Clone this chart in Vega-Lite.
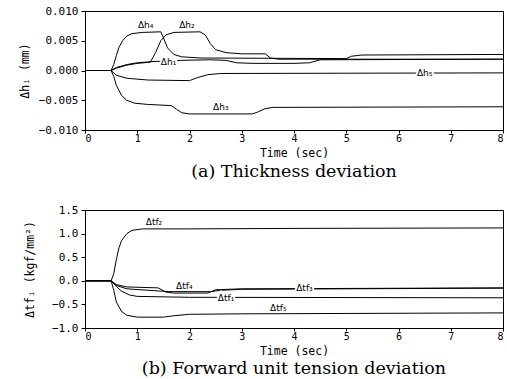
{
  "$schema": "https://vega.github.io/schema/vega-lite/v6.json",
  "padding": {"left": 18, "top": 4, "right": 4, "bottom": 2},
  "background": "white",
  "spacing": 22,
  "config": {
    "view": {"stroke": "black", "strokeWidth": 1},
    "axis": {
      "domainColor": "black", "tickColor": "black", "labelColor": "black", "titleColor": "black",
      "labelFont": "DejaVu Sans Mono", "labelFontSize": 11, "titleFont": "DejaVu Sans Mono", "titleFontSize": 11.5,
      "titleFontWeight": "normal", "grid": false, "tickSize": 4, "labelPadding": 1, "labelOverlap": false
    },
    "title": {"font": "DejaVu Serif", "fontSize": 17.5, "fontWeight": "normal", "color": "black", "orient": "bottom", "offset": 4}
  },
  "datasets": {
    "thick": [
      {"s": "h1", "t": 0, "v": 0}, {"s": "h1", "t": 0.5, "v": 0}, {"s": "h1", "t": 0.6, "v": 0.0005}, {"s": "h1", "t": 0.8, "v": 0.001}, {"s": "h1", "t": 1.0, "v": 0.0013}, {"s": "h1", "t": 1.3, "v": 0.0015}, {"s": "h1", "t": 1.8, "v": 0.0017}, {"s": "h1", "t": 2.4, "v": 0.0018}, {"s": "h1", "t": 2.7, "v": 0.0017}, {"s": "h1", "t": 2.9, "v": 0.0013}, {"s": "h1", "t": 3.2, "v": 0.0012}, {"s": "h1", "t": 4.0, "v": 0.0012}, {"s": "h1", "t": 4.3, "v": 0.0013}, {"s": "h1", "t": 4.5, "v": 0.0018}, {"s": "h1", "t": 8, "v": 0.0019},
      {"s": "h2", "t": 0, "v": 0}, {"s": "h2", "t": 0.5, "v": 0}, {"s": "h2", "t": 0.6, "v": 0.0004}, {"s": "h2", "t": 0.8, "v": 0.0009}, {"s": "h2", "t": 1.0, "v": 0.0012}, {"s": "h2", "t": 1.25, "v": 0.0014}, {"s": "h2", "t": 1.35, "v": 0.003}, {"s": "h2", "t": 1.45, "v": 0.005}, {"s": "h2", "t": 1.55, "v": 0.006}, {"s": "h2", "t": 1.7, "v": 0.0064}, {"s": "h2", "t": 2.2, "v": 0.0065}, {"s": "h2", "t": 2.3, "v": 0.006}, {"s": "h2", "t": 2.4, "v": 0.0045}, {"s": "h2", "t": 2.5, "v": 0.0035}, {"s": "h2", "t": 2.7, "v": 0.003}, {"s": "h2", "t": 3.0, "v": 0.0028}, {"s": "h2", "t": 3.45, "v": 0.0028}, {"s": "h2", "t": 3.55, "v": 0.0021}, {"s": "h2", "t": 3.7, "v": 0.0019}, {"s": "h2", "t": 8, "v": 0.0019},
      {"s": "h4", "t": 0, "v": 0}, {"s": "h4", "t": 0.5, "v": 0}, {"s": "h4", "t": 0.55, "v": 0.001}, {"s": "h4", "t": 0.6, "v": 0.0025}, {"s": "h4", "t": 0.65, "v": 0.0039}, {"s": "h4", "t": 0.72, "v": 0.005}, {"s": "h4", "t": 0.8, "v": 0.0058}, {"s": "h4", "t": 0.9, "v": 0.0062}, {"s": "h4", "t": 1.1, "v": 0.0064}, {"s": "h4", "t": 1.45, "v": 0.0065}, {"s": "h4", "t": 1.5, "v": 0.0055}, {"s": "h4", "t": 1.58, "v": 0.0038}, {"s": "h4", "t": 1.7, "v": 0.0027}, {"s": "h4", "t": 1.85, "v": 0.0023}, {"s": "h4", "t": 2.2, "v": 0.0021}, {"s": "h4", "t": 5.0, "v": 0.002}, {"s": "h4", "t": 5.1, "v": 0.0024}, {"s": "h4", "t": 5.3, "v": 0.0026}, {"s": "h4", "t": 8, "v": 0.0027},
      {"s": "h3", "t": 0, "v": 0}, {"s": "h3", "t": 0.5, "v": 0}, {"s": "h3", "t": 0.55, "v": -0.001}, {"s": "h3", "t": 0.6, "v": -0.0025}, {"s": "h3", "t": 0.7, "v": -0.0042}, {"s": "h3", "t": 0.8, "v": -0.005}, {"s": "h3", "t": 0.95, "v": -0.0055}, {"s": "h3", "t": 1.2, "v": -0.0057}, {"s": "h3", "t": 1.65, "v": -0.0059}, {"s": "h3", "t": 1.75, "v": -0.0065}, {"s": "h3", "t": 1.85, "v": -0.0071}, {"s": "h3", "t": 2.0, "v": -0.0073}, {"s": "h3", "t": 3.2, "v": -0.0073}, {"s": "h3", "t": 3.3, "v": -0.007}, {"s": "h3", "t": 3.45, "v": -0.0064}, {"s": "h3", "t": 3.6, "v": -0.0062}, {"s": "h3", "t": 8, "v": -0.0061},
      {"s": "h5", "t": 0, "v": 0}, {"s": "h5", "t": 0.5, "v": 0}, {"s": "h5", "t": 0.6, "v": -0.0008}, {"s": "h5", "t": 0.8, "v": -0.0013}, {"s": "h5", "t": 1.2, "v": -0.0016}, {"s": "h5", "t": 2.0, "v": -0.0017}, {"s": "h5", "t": 2.15, "v": -0.0012}, {"s": "h5", "t": 2.35, "v": -0.0007}, {"s": "h5", "t": 2.6, "v": -0.0005}, {"s": "h5", "t": 8, "v": -0.0004}
    ],
    "tension": [
      {"s": "f2", "t": 0, "v": 0}, {"s": "f2", "t": 0.5, "v": 0}, {"s": "f2", "t": 0.55, "v": 0.15}, {"s": "f2", "t": 0.6, "v": 0.45}, {"s": "f2", "t": 0.65, "v": 0.7}, {"s": "f2", "t": 0.7, "v": 0.85}, {"s": "f2", "t": 0.8, "v": 1.0}, {"s": "f2", "t": 0.9, "v": 1.07}, {"s": "f2", "t": 1.1, "v": 1.1}, {"s": "f2", "t": 2, "v": 1.1}, {"s": "f2", "t": 4, "v": 1.11}, {"s": "f2", "t": 8, "v": 1.12},
      {"s": "f5", "t": 0, "v": 0}, {"s": "f5", "t": 0.5, "v": 0}, {"s": "f5", "t": 0.55, "v": -0.2}, {"s": "f5", "t": 0.6, "v": -0.45}, {"s": "f5", "t": 0.7, "v": -0.65}, {"s": "f5", "t": 0.8, "v": -0.73}, {"s": "f5", "t": 1.0, "v": -0.77}, {"s": "f5", "t": 1.5, "v": -0.77}, {"s": "f5", "t": 1.7, "v": -0.74}, {"s": "f5", "t": 2.0, "v": -0.71}, {"s": "f5", "t": 3, "v": -0.7}, {"s": "f5", "t": 8, "v": -0.68},
      {"s": "f1", "t": 0, "v": 0}, {"s": "f1", "t": 0.5, "v": 0}, {"s": "f1", "t": 0.6, "v": -0.12}, {"s": "f1", "t": 0.7, "v": -0.22}, {"s": "f1", "t": 0.85, "v": -0.3}, {"s": "f1", "t": 1.0, "v": -0.33}, {"s": "f1", "t": 2, "v": -0.35}, {"s": "f1", "t": 8, "v": -0.36},
      {"s": "f4", "t": 0, "v": 0}, {"s": "f4", "t": 0.5, "v": 0}, {"s": "f4", "t": 0.6, "v": -0.08}, {"s": "f4", "t": 0.8, "v": -0.13}, {"s": "f4", "t": 1.4, "v": -0.15}, {"s": "f4", "t": 1.55, "v": -0.24}, {"s": "f4", "t": 1.7, "v": -0.26}, {"s": "f4", "t": 2.35, "v": -0.26}, {"s": "f4", "t": 2.5, "v": -0.19}, {"s": "f4", "t": 3, "v": -0.17}, {"s": "f4", "t": 8, "v": -0.15},
      {"s": "f3", "t": 0, "v": 0}, {"s": "f3", "t": 0.5, "v": 0}, {"s": "f3", "t": 0.6, "v": -0.1}, {"s": "f3", "t": 0.8, "v": -0.17}, {"s": "f3", "t": 1.2, "v": -0.2}, {"s": "f3", "t": 1.6, "v": -0.23}, {"s": "f3", "t": 2.4, "v": -0.23}, {"s": "f3", "t": 2.6, "v": -0.2}, {"s": "f3", "t": 3, "v": -0.18}, {"s": "f3", "t": 8, "v": -0.155}
    ],
    "labA": [
      {"t": 1.16, "v": 0.0076, "label": "Δh₄"},
      {"t": 1.95, "v": 0.0076, "label": "Δh₂"},
      {"t": 1.6, "v": 0.0015, "label": "Δh₁"},
      {"t": 2.6, "v": -0.0062, "label": "Δh₃"},
      {"t": 6.5, "v": -0.0004, "label": "Δh₅"}
    ],
    "labB": [
      {"t": 1.32, "v": 1.24, "label": "Δtf₂"},
      {"t": 1.9, "v": -0.1, "label": "Δtf₄"},
      {"t": 2.7, "v": -0.36, "label": "Δtf₁"},
      {"t": 4.2, "v": -0.155, "label": "Δtf₃"},
      {"t": 3.7, "v": -0.57, "label": "Δtf₅"}
    ]
  },
  "vconcat": [
    {
      "width": 418, "height": 119,
      "title": {"text": "(a)  Thickness deviation"},
      "encoding": {
        "x": {"field": "t", "type": "quantitative", "scale": {"domain": [0, 8], "nice": false}, "axis": {"title": "Time (sec)", "values": [0,1,2,3,4,5,6,7,8], "tickSize": 3, "labelPadding": 0, "labelFontSize": 10, "titlePadding": 4, "labelOverlap": false}},
        "y": {"field": "v", "type": "quantitative", "scale": {"domain": [-0.01, 0.01], "nice": false}, "axis": {"title": "Δhᵢ (mm)", "values": [-0.01, -0.005, 0, 0.005, 0.01], "format": ".3f", "titlePadding": 8, "labelPadding": 3, "labelOverlap": false}}
      },
      "layer": [
        {
          "data": {"name": "thick"},
          "mark": {"type": "line", "color": "black", "strokeWidth": 1, "clip": true},
          "encoding": {"detail": {"field": "s"}}
        },
        {
          "data": {"name": "labA"},
          "mark": {"type": "text", "font": "DejaVu Sans", "fontSize": 9, "stroke": "white", "strokeWidth": 4, "color": "white"},
          "encoding": {"text": {"field": "label"}}
        },
        {
          "data": {"name": "labA"},
          "mark": {"type": "text", "font": "DejaVu Sans", "fontSize": 9, "color": "black"},
          "encoding": {"text": {"field": "label"}}
        }
      ]
    },
    {
      "width": 418, "height": 118,
      "title": {"text": "(b)  Forward unit tension deviation", "offset": 3},
      "encoding": {
        "x": {"field": "t", "type": "quantitative", "scale": {"domain": [0, 8], "nice": false}, "axis": {"title": "Time (sec)", "values": [0,1,2,3,4,5,6,7,8], "tickSize": 3, "labelPadding": 0, "labelFontSize": 10, "titlePadding": 4, "labelOverlap": false}},
        "y": {"field": "v", "type": "quantitative", "scale": {"domain": [-1, 1.5], "nice": false}, "axis": {"title": "Δtfᵢ (kgf/mm²)", "values": [-1, -0.5, 0, 0.5, 1, 1.5], "format": ".1f", "titlePadding": 16, "labelPadding": 3, "labelOverlap": false}}
      },
      "layer": [
        {
          "data": {"name": "tension"},
          "mark": {"type": "line", "color": "black", "strokeWidth": 1, "clip": true},
          "encoding": {"detail": {"field": "s"}}
        },
        {
          "data": {"name": "labB"},
          "mark": {"type": "text", "font": "DejaVu Sans", "fontSize": 9, "stroke": "white", "strokeWidth": 4, "color": "white"},
          "encoding": {"text": {"field": "label"}}
        },
        {
          "data": {"name": "labB"},
          "mark": {"type": "text", "font": "DejaVu Sans", "fontSize": 9, "color": "black"},
          "encoding": {"text": {"field": "label"}}
        }
      ]
    }
  ]
}
